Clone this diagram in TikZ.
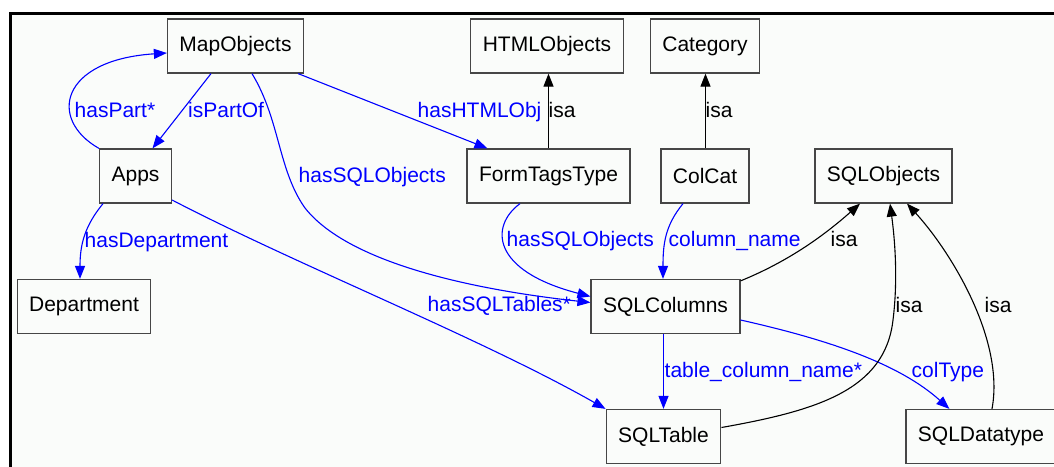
\documentclass[tikz,border=0pt]{standalone}
\usepackage{fontspec}
\setmainfont{Liberation Sans}
\usetikzlibrary{arrows.meta,calc}
\definecolor{panel}{RGB}{250,252,250}
\definecolor{rel}{RGB}{0,0,255}
\definecolor{boxline}{RGB}{70,70,70}
\begin{document}
\begin{tikzpicture}[x=1pt,y=-1pt,
  every node/.style={font=\fontsize{21}{25}\selectfont},
  box/.style={draw=boxline,line width=1.25pt,minimum height=54pt,inner xsep=12pt,inner ysep=0pt},
  tip/.style={-{Triangle[length=13pt,width=10pt]}},
  relation/.style={tip,draw=rel,line width=1.1pt},
  isa/.style={tip,draw=black,line width=1.1pt},
  rellabel/.style={text=rel,inner sep=0pt,anchor=base west},
  isalabel/.style={text=black,inner sep=0pt,anchor=base west}]
\clip (0,0) rectangle (1054,466);
% panel with its frame
\fill[panel] (10.5,13.5) rectangle (1070,480);
\draw[line width=3pt] (10.5,480) -- (10.5,13.5) -- (1070,13.5);

% classes
\node[box] (map)    at (235.5,46)  {MapObjects};
\node[box] (html)   at (547,46)    {HTMLObjects};
\node[box] (cat)    at (705,46)    {Category};
\node[box] (apps)   at (135.5,176) {Apps};
\node[box] (ftt)    at (548.5,176) {FormTagsType};
\node[box] (colcat) at (705,176)   {ColCat};
\node[box] (sqlobj) at (883.5,176) {SQLObjects};
\node[box] (dept)   at (84,306.5)  {Department};
\node[box] (sqlcol) at (665.5,306.5) {SQLColumns};
\node[box] (sqltab) at (663.5,436.5) {SQLTable};
\node[box] (sqldt)  at (981,436.5) {SQLDatatype};

% relations
\draw[relation] (apps.north west) .. controls +(-51,-29) and +(-107,7) .. ($(map.west)+(0,7)$);
\draw[relation] ($(map.south)+(-24.5,0)$) -- ($(apps.north)+(17,0)$);
\draw[relation] ($(map.south)+(16.5,0)$) .. controls +(28,46) and +(-27,-38) .. (305,208)
  .. controls +(45,57) and +(-110,-12) .. ($(sqlcol.west)+(0,-4)$);
\draw[relation] ($(map.south east)+(-6,0)$) -- ($(ftt.north west)+(21,0)$);
\draw[relation] ($(ftt.south)+(-28.5,0)$) .. controls +(-30,22) and +(-100,-26) .. ($(sqlcol.west)+(0,-10)$);
\draw[relation] ($(colcat.south)+(-22,0)$) .. controls +(-18,22) and +(0,-35) .. ($(sqlcol.north)+(-2.5,0)$);
\draw[relation] ($(sqlcol.east)+(0,13.5)$) .. controls +(89,20) and +(-50,-45) .. ($(sqldt.north west)+(44,0)$);
\draw[relation] ($(sqlcol.south)+(-2,0)$) -- ($(sqltab.north)+(0,0)$);
\draw[relation] ($(apps.south)+(-32.5,0)$) .. controls +(-18,22) and +(0,-35) .. ($(dept.north)+(-4,0)$);
\draw[relation] ($(apps.east)+(0,24)$) .. controls +(125,65) and +(-123,-70) .. (sqltab.north west);

% subclass links
\draw[isa] (ftt.north) -- (ftt.north |- html.south);
\draw[isa] ($(colcat.north)+(0.5,0)$) -- ($(cat.south)+(0.5,0)$);
\draw[isa] ($(sqlcol.north east)+(0,2)$) .. controls +(49,-20) and +(-35,31) .. ($(sqlobj.south)+(-23.5,0)$);
\draw[isa] ($(sqltab.east)+(0,-9)$) .. controls +(96,-17) and +(-8,70) .. (893,320)
  .. controls +(5,-40) and +(5,37) .. ($(sqlobj.south)+(6.5,0)$);
\draw[isa] ($(sqldt.north)+(11,0)$) .. controls +(13,-70) and +(43,47) .. ($(sqlobj.south)+(23.5,0)$);

% labels
\node[rellabel] (l-haspart) at (74.5,117) {hasPart*};
\node[rellabel] (l-ispartof) at (188,117) {isPartOf};
\node[rellabel] (l-mapsql) at (298.5,182) {hasSQLObjects};
\node[rellabel] (l-html) at (417.5,117) {hasHTMLObj};
\node[isalabel] (l-isa1) at (548.5,117) {isa};
\node[isalabel] (l-isa2) at (705.5,117) {isa};
\node[rellabel] (l-fttsql) at (506.5,246) {hasSQLObjects};
\node[rellabel] (l-colname) at (668.5,246) {column\_name};
\node[isalabel] (l-isa3) at (830.5,246) {isa};
\node[rellabel] (l-dept) at (84.5,247) {hasDepartment};
\node[rellabel] (l-tables) at (427.5,311) {hasSQLTables*};
\node[isalabel] (l-isa4) at (895.5,312) {isa};
\node[isalabel] (l-isa5) at (984.5,312) {isa};
\node[rellabel] (l-tcn) at (664.5,377) {table\_column\_name*};
\node[rellabel] (l-coltype) at (911.5,377) {colType};
\end{tikzpicture}
\end{document}
